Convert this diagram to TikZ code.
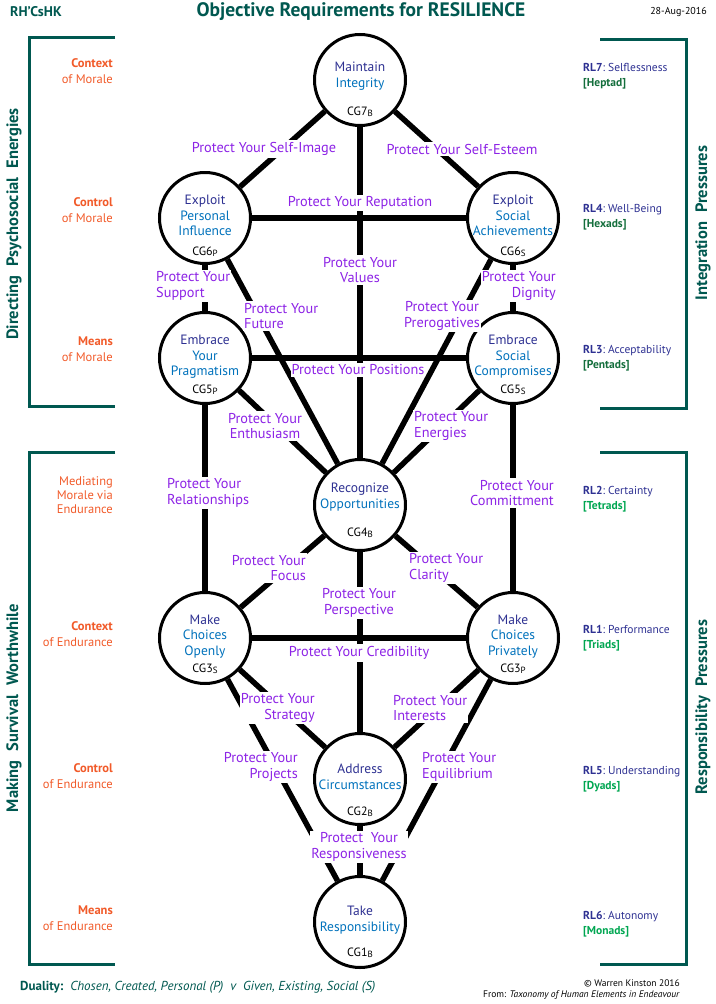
\documentclass[tikz,border=0pt]{standalone}
\usepackage{fontspec}
\setmainfont{PT Sans}
\usetikzlibrary{positioning}

\definecolor{rhteal}{RGB}{0,88,80}
\definecolor{morale}{RGB}{241,90,41}
\definecolor{protcol}{RGB}{141,35,230}
\definecolor{goaldark}{RGB}{46,49,146}
\definecolor{goallight}{RGB}{0,114,188}
\definecolor{dkgreen}{RGB}{20,110,60}
\definecolor{ltgreen}{RGB}{0,166,81}

\newcommand{\cgname}[2]{CG#1{\fontsize{9}{9}\selectfont\raisebox{-1pt}{#2}}}
\newcommand{\gw}[1]{\textcolor{goaldark}{#1}}
\newcommand{\wsp}{\hspace{9pt}}

\tikzstyle{goal} = [circle,draw,line width=3pt,minimum size=91pt,inner sep=0pt,fill=white]
\tikzstyle{goaltxt} = [align=center,text=goallight,font=\fontsize{13.5}{15.5}\selectfont,inner sep=0pt]
\tikzstyle{cgtxt} = [font=\fontsize{12}{12}\selectfont,inner sep=0pt]
\tikzstyle{link} = [line width=5.5pt]
\tikzstyle{protect} = [fill=white,text=protcol,font=\fontsize{14.3}{15.5}\selectfont,inner xsep=1pt,inner ysep=2pt]
\tikzstyle{side} = [text=morale,align=right,anchor=east,font=\fontsize{12.5}{15.5}\selectfont,inner sep=0pt]
\tikzstyle{rl} = [text=goaldark,align=left,anchor=west,font=\fontsize{11.5}{14.5}\selectfont,inner sep=0pt]
\tikzstyle{bracket} = [draw=rhteal,line width=3pt]
\tikzstyle{vtitle} = [rotate=90,text=rhteal,font=\fontsize{16.5}{16.5}\selectfont\bfseries,inner sep=0pt]

\begin{document}
\begin{tikzpicture}[x=1pt,y=-1pt]
	\useasboundingbox (0,0) rectangle (715,1004);

	% headings
	\node[text=rhteal,font=\fontsize{14}{14}\selectfont\bfseries,anchor=west,inner sep=0pt] (rh) at (10,12) {RH’CsHK};
	\node[text=rhteal,font=\fontsize{19.5}{19.5}\selectfont\bfseries,inner sep=0pt] (title) at (361,12) {Objective Requirements for RESILIENCE};
	\node[font=\fontsize{10}{10}\selectfont,anchor=east,inner sep=0pt] (date) at (707,12) {28-Aug-2016};

	% brackets
	\draw[bracket] (115,37) -| (29,406) -- (115,406);
	\draw[bracket] (115,452) -| (29,964) -- (115,964);
	\draw[bracket] (600,39) -| (686,408) -- (600,408);
	\draw[bracket] (600,452) -| (686,964) -- (600,964);
	\node[vtitle] (dpe) at (14,224) {Directing\wsp Psychosocial\wsp Energies};
	\node[vtitle] (msw) at (14,708) {Making\wsp Survival\wsp Worthwhile};
	\node[vtitle] (ip) at (703,223) {Integration\wsp Pressures};
	\node[vtitle] (rp) at (703,707) {Responsibility\wsp Pressures};

	% left side
	\node[side] (s1) at (113,71) {\textbf{Context}\\of Morale};
	\node[side] (s2) at (113,210) {\textbf{Control}\\of Morale};
	\node[side] (s3) at (113,349) {\textbf{Means}\\of Morale};
	\node[side,font=\fontsize{12.5}{14}\selectfont] (s4) at (113,495) {Mediating\\Morale via\\Endurance};
	\node[side] (s5) at (113,634) {\textbf{Context}\\of Endurance};
	\node[side] (s6) at (113,776) {\textbf{Control}\\of Endurance};
	\node[side] (s7) at (113,918) {\textbf{Means}\\of Endurance};

	% right side
	\node[rl] (r7) at (583,76) {\textbf{RL7}:~Selflessness\\\textcolor{dkgreen}{\textbf{[Heptad]}}};
	\node[rl] (r4) at (583,217) {\textbf{RL4}:~Well-Being\\\textcolor{dkgreen}{\textbf{[Hexads]}}};
	\node[rl] (r3) at (583,358) {\textbf{RL3}:~Acceptability\\\textcolor{dkgreen}{\textbf{[Pentads]}}};
	\node[rl] (r2) at (583,499) {\textbf{RL2}:~Certainty\\\textcolor{ltgreen}{\textbf{[Tetrads]}}};
	\node[rl] (r1) at (583,638) {\textbf{RL1}:~Performance\\\textcolor{ltgreen}{\textbf{[Triads]}}};
	\node[rl] (r5) at (583,779) {\textbf{RL5}:~Understanding\\\textcolor{ltgreen}{\textbf{[Dyads]}}};
	\node[rl] (r6) at (583,924) {\textbf{RL6}:~Autonomy\\\textcolor{ltgreen}{\textbf{[Monads]}}};

	% goals
	\node[goal] (g7) at (360,80) {};
	\node[goal] (g6p) at (205,218) {};
	\node[goal] (g6s) at (513,218) {};
	\node[goal] (g5p) at (205,358) {};
	\node[goal] (g5s) at (513,358) {};
	\node[goal] (g4) at (360,505) {};
	\node[goal] (g3s) at (205,638) {};
	\node[goal] (g3p) at (513,638) {};
	\node[goal] (g2) at (360,779) {};
	\node[goal] (g1) at (360,922) {};

	% links
	\draw[link] (g7) -- (g6p);
	\draw[link] (g7) -- (g6s);
	\draw[link] (g7) -- (g4);
	\draw[link] (g6p) -- (g6s);
	\draw[link] (g6p) -- (g5p);
	\draw[link] (g6s) -- (g5s);
	\draw[link] (g6p) -- (g4);
	\draw[link] (g6s) -- (g4);
	\draw[link] (g5p) -- (g5s);
	\draw[link] (g5p) -- (g4);
	\draw[link] (g5s) -- (g4);
	\draw[link] (g5p) -- (g3s);
	\draw[link] (g5s) -- (g3p);
	\draw[link] (g4) -- (g3s);
	\draw[link] (g4) -- (g3p);
	\draw[link] (g4) -- (g2);
	\draw[link] (g3s) -- (g3p);
	\draw[link] (g3s) -- (g2);
	\draw[link] (g3p) -- (g2);
	\draw[link] (g3s) -- (g1);
	\draw[link] (g3p) -- (g1);
	\draw[link] (g2) -- (g1);

	% goal texts
	\node[goaltxt] (t7) at ([yshift=4pt]g7.center) {\gw{Maintain}\\Integrity};
	\node[goaltxt] (t6p) at ([yshift=2.5pt]g6p.center) {\gw{Exploit}\\Personal\\Influence};
	\node[goaltxt] (t6s) at ([yshift=2.5pt]g6s.center) {\gw{Exploit}\\Social\\Achievements};
	\node[goaltxt] (t5p) at ([yshift=1pt]g5p.center) {\gw{Embrace}\\Your\\Pragmatism};
	\node[goaltxt] (t5s) at ([yshift=1pt]g5s.center) {\gw{Embrace}\\Social\\Compromises};
	\node[goaltxt] (t4) at ([yshift=8pt]g4.center) {\gw{Recognize}\\Opportunities};
	\node[goaltxt] (t3s) at ([yshift=1.5pt]g3s.center) {\gw{Make}\\Choices\\Openly};
	\node[goaltxt] (t3p) at ([yshift=1.5pt]g3p.center) {\gw{Make}\\Choices\\Privately};
	\node[goaltxt] (t2) at ([yshift=2pt]g2.center) {\gw{Address}\\Circumstances};
	\node[goaltxt] (t1) at ([yshift=2pt]g1.center) {\gw{Take}\\Responsibility};

	\node[cgtxt] (c7) at ([yshift=-32pt]g7.center) {\cgname{7}{B}};
	\node[cgtxt] (c6p) at ([yshift=-34pt]g6p.center) {\cgname{6}{P}};
	\node[cgtxt] (c6s) at ([yshift=-34pt]g6s.center) {\cgname{6}{S}};
	\node[cgtxt] (c5p) at ([yshift=-32pt]g5p.center) {\cgname{5}{P}};
	\node[cgtxt] (c5s) at ([yshift=-32pt]g5s.center) {\cgname{5}{S}};
	\node[cgtxt] (c4) at ([yshift=-28pt]g4.center) {\cgname{4}{B}};
	\node[cgtxt] (c3s) at ([yshift=-31pt]g3s.center) {\cgname{3}{S}};
	\node[cgtxt] (c3p) at ([yshift=-31pt]g3p.center) {\cgname{3}{P}};
	\node[cgtxt] (c2) at ([yshift=-33pt]g2.center) {\cgname{2}{B}};
	\node[cgtxt] (c1) at ([yshift=-31pt]g1.center) {\cgname{1}{B}};

	% protect labels
	\node[protect] (p1) at (264,149) {Protect Your Self-Image};
	\node[protect] (p2) at (462,149) {Protect Your Self-Esteem};
	\node[protect] (p3) at (360,203) {Protect Your Reputation};
	\node[protect,align=center] (p4) at (360,270) {Protect Your\\Values};
	\node[protect,align=left,anchor=west] (p5) at (155,286) {Protect Your\\Support};
	\node[protect,align=right,anchor=east] (p6) at (557,286) {Protect Your\\Dignity};
	\node[protect,align=left,anchor=west] (p7) at (243,316) {Protect Your\\Future};
	\node[protect,align=center] (p8) at (442,316) {Protect Your\\Prerogatives};
	\node[protect] (p9) at (358,370) {Protect Your Positions};
	\node[protect,align=center] (p10) at (265,426) {Protect Your\\Enthusiasm};
	\node[protect,align=left,anchor=west] (p11) at (413,426) {Protect Your\\Energies};
	\node[protect,align=left,anchor=west] (p12) at (166,493) {Protect Your\\Relationships};
	\node[protect,align=right,anchor=east] (p13) at (555,493) {Protect Your\\Committment};
	\node[protect,align=right,anchor=east] (p14) at (307,568) {Protect Your\\Focus};
	\node[protect,align=left,anchor=west] (p15) at (408,568) {Protect Your\\Clarity};
	\node[protect,align=center] (p16) at (359,603) {Protect Your\\Perspective};
	\node[protect] (p17) at (359,653) {Protect Your Credibility};
	\node[protect,align=right,anchor=east] (p18) at (316,708) {Protect Your\\Strategy};
	\node[protect,align=left,anchor=west] (p19) at (392,708) {Protect Your\\Interests};
	\node[protect,align=right,anchor=east] (p20) at (299,767) {Protect Your\\Projects};
	\node[protect,align=left,anchor=west] (p21) at (421,767) {Protect Your\\Equilibrium};
	\node[protect,align=center] (p22) at (359,847) {Protect\ \ Your\\Responsiveness};

	% footer
	\node[text=rhteal,font=\fontsize{13}{13}\selectfont,anchor=west,inner sep=0pt] (dual) at (20,987) {\textbf{Duality:}\ \ \textit{Chosen, Created, Personal (P)\ \ v\ \ Given, Existing, Social (S)}};
	\node[font=\fontsize{9.5}{11}\selectfont,align=right,anchor=east,inner sep=0pt] (src) at (680,990) {© Warren Kinston 2016\\From: \textit{Taxonomy of Human Elements in Endeavour}};
\end{tikzpicture}
\end{document}
